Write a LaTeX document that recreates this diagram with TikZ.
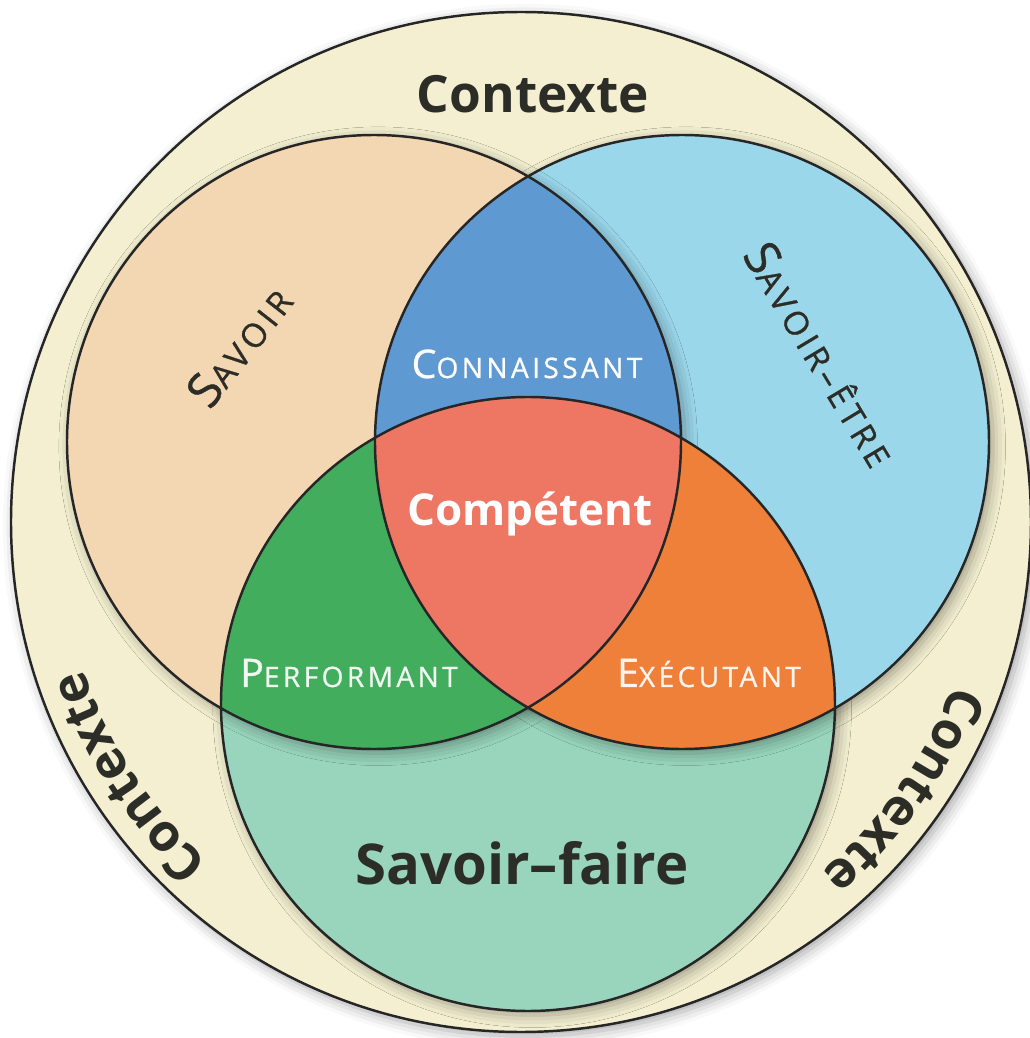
\documentclass[tikz,border=0pt]{standalone}
\usepackage{fontspec}
\setmainfont{Open Sans}
\usetikzlibrary{shadows.blur,decorations.text}

\definecolor{creme}{RGB}{243,239,208}
\definecolor{peche}{RGB}{243,214,178}
\definecolor{ciel}{RGB}{155,215,235}
\definecolor{menthe}{RGB}{152,213,188}
\definecolor{bleu}{RGB}{94,153,210}
\definecolor{vert}{RGB}{67,173,94}
\definecolor{orangec}{RGB}{239,128,58}
\definecolor{rouge}{RGB}{238,119,100}
\definecolor{encre}{RGB}{45,45,40}

\newcommand{\petitcaps}[2]{{\fontsize{11.2}{13}\selectfont\addfontfeature{FakeBold=0.8}#1}{\fontsize{8}{9}\selectfont\addfontfeature{LetterSpace=12,FakeBold=0.8}#2}}
\newcommand{\grandcaps}[2]{{\fontsize{13.6}{15}\selectfont\addfontfeature{FakeBold=0.8}#1}{\fontsize{9.4}{11}\selectfont\addfontfeature{LetterSpace=13,FakeBold=0.8}#2}}
\newcommand{\contextefont}{\fontsize{14.6}{17}\selectfont\bfseries}

\tikzset{
  ombre/.style={blur shadow={shadow xshift=1.2pt, shadow yshift=-1.2pt, shadow blur radius=3.5pt, shadow opacity=35}},
  bord/.style={draw=black!85, line width=0.7pt},
  mot/.style={text=encre, inner sep=0pt},
  blanc/.style={text=white, inner sep=0pt},
}

\begin{document}
\begin{tikzpicture}[line join=round, line cap=round, x=0.01cm, y=0.01cm]
  \useasboundingbox (0,0) rectangle (1030,1038);
  \coordinate (O) at (521,516);
  \coordinate (Sa) at (374,596);  % savoir
  \coordinate (Et) at (682,596);  % savoir-etre
  \coordinate (Fa) at (528,334);  % savoir-faire

  \fill[creme, ombre] (O) circle[radius=510];
  \draw[bord] (O) circle[radius=510];

  \fill[menthe, ombre] (Fa) circle[radius=307];
  \fill[ciel, ombre] (Et) circle[radius=307];
  \fill[peche, ombre] (Sa) circle[radius=307];

  \begin{scope}
    \clip (Et) circle[radius=307];
    \fill[orangec] (Fa) circle[radius=307];
  \end{scope}
  \begin{scope}
    \clip (Sa) circle[radius=307];
    \fill[bleu] (Et) circle[radius=307];
    \fill[vert] (Fa) circle[radius=307];
    \clip (Et) circle[radius=307];
    \fill[rouge] (Fa) circle[radius=307];
  \end{scope}

  \draw[bord] (Sa) circle[radius=307] (Et) circle[radius=307] (Fa) circle[radius=307];

  \node[mot, font=\contextefont] (contexte) at (533,944) {Contexte};
  \path[decorate, decoration={text along path, text={|\contextefont|Contexte}, text align=center, text color=encre}]
    (O) ++(233:462) arc[start angle=233, end angle=193, radius=462];
  \path[decorate, decoration={text along path, text={|\contextefont|Contexte}, text align=center, text color=encre}]
    (O) ++(-15:462) arc[start angle=-15, end angle=-55, radius=462];

  \node[mot, rotate=52] (savoir) at (239,692) {\grandcaps{S}{AVOIR}};
  \node[mot, rotate=-59] (etre) at (821,684) {\grandcaps{S}{AVOIR–ÊTRE}};
  \node[mot, anchor=base, font=\fontsize{16}{19}\selectfont\bfseries] (faire) at (522,153) {Savoir–faire};

  \node[blanc, anchor=base] (connaissant) at (527,660) {\petitcaps{C}{ONNAISSANT}};
  \node[blanc, anchor=base, text=vert!8!white] (performant) at (349,351) {\petitcaps{P}{ERFORMANT}};
  \node[blanc, anchor=base, text=orangec!8!white] (executant) at (709,351) {\petitcaps{E}{XÉCUTANT}};
  \node[blanc, anchor=base, font=\fontsize{12.5}{15}\selectfont\bfseries] (competent) at (530,513) {Compétent};
\end{tikzpicture}
\end{document}
